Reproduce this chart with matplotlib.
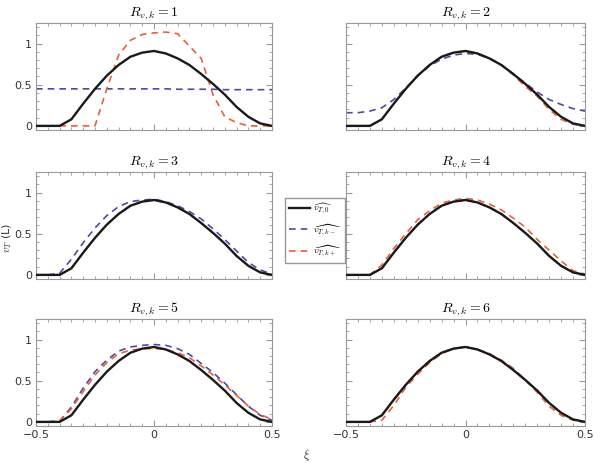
import matplotlib
matplotlib.use("Agg")
import matplotlib.pyplot as plt
from matplotlib.ticker import MultipleLocator

plt.rcParams["mathtext.fontset"] = "cm"

xi = [-0.5, -0.45, -0.4, -0.35, -0.3, -0.25, -0.2, -0.15, -0.1, -0.05, 0.0,
      0.05, 0.1, 0.15, 0.2, 0.25, 0.3, 0.35, 0.4, 0.45, 0.5]

# reference profile, same in every panel
v_0 = [0.0, 0.0, 0.0, 0.08, 0.27, 0.45, 0.61, 0.74, 0.84, 0.89, 0.91,
       0.88, 0.82, 0.74, 0.63, 0.51, 0.38, 0.23, 0.11, 0.03, 0.0]

v_minus = {
    1: [0.45, 0.45, 0.45, 0.45, 0.45, 0.45, 0.45, 0.45, 0.45, 0.45, 0.45,
        0.45, 0.445, 0.445, 0.445, 0.445, 0.44, 0.44, 0.44, 0.44, 0.44],
    2: [0.16, 0.16, 0.18, 0.22, 0.32, 0.46, 0.61, 0.73, 0.81, 0.86, 0.88,
        0.87, 0.82, 0.74, 0.63, 0.52, 0.41, 0.32, 0.26, 0.21, 0.18],
    3: [0.0, 0.0, 0.02, 0.19, 0.39, 0.57, 0.72, 0.83, 0.89, 0.91, 0.92,
        0.89, 0.84, 0.77, 0.68, 0.56, 0.43, 0.29, 0.15, 0.06, 0.01],
    4: [0.0, 0.0, 0.0, 0.08, 0.27, 0.45, 0.61, 0.74, 0.84, 0.89, 0.91,
        0.88, 0.82, 0.74, 0.63, 0.51, 0.38, 0.23, 0.11, 0.03, 0.0],
    5: [0.0, 0.0, 0.01, 0.18, 0.41, 0.61, 0.75, 0.86, 0.91, 0.93, 0.94,
        0.93, 0.89, 0.82, 0.71, 0.60, 0.47, 0.33, 0.19, 0.08, 0.02],
    6: [0.0, 0.0, 0.0, 0.08, 0.27, 0.45, 0.61, 0.74, 0.84, 0.89, 0.91,
        0.88, 0.82, 0.74, 0.63, 0.51, 0.38, 0.23, 0.11, 0.03, 0.0],
}

v_plus = {
    1: [0.0, 0.0, 0.0, 0.0, 0.0, 0.0, 0.45, 0.86, 1.04, 1.11, 1.13,
        1.14, 1.12, 0.97, 0.82, 0.38, 0.11, 0.04, 0.0, 0.0, 0.0],
    2: [0.0, 0.0, 0.0, 0.08, 0.27, 0.45, 0.61, 0.74, 0.84, 0.89, 0.91,
        0.88, 0.82, 0.74, 0.62, 0.48, 0.36, 0.20, 0.08, 0.02, 0.0],
    3: [0.0, 0.0, 0.0, 0.08, 0.27, 0.45, 0.61, 0.74, 0.84, 0.89, 0.91,
        0.88, 0.82, 0.74, 0.63, 0.51, 0.38, 0.23, 0.11, 0.03, 0.0],
    4: [0.0, 0.0, 0.0, 0.12, 0.32, 0.50, 0.67, 0.78, 0.87, 0.91, 0.93,
        0.91, 0.86, 0.79, 0.69, 0.58, 0.43, 0.30, 0.17, 0.05, 0.01],
    5: [0.0, 0.0, 0.01, 0.16, 0.37, 0.57, 0.72, 0.83, 0.87, 0.89, 0.89,
        0.88, 0.84, 0.78, 0.68, 0.57, 0.45, 0.32, 0.19, 0.09, 0.03],
    6: [0.0, 0.0, 0.0, 0.02, 0.20, 0.42, 0.58, 0.72, 0.83, 0.89, 0.91,
        0.88, 0.83, 0.75, 0.65, 0.51, 0.36, 0.19, 0.08, 0.02, 0.0],
}

R_values = [1, 2, 3, 4, 5, 6]
x_ticks = [-0.5, 0.0, 0.5]
x_ticklabels = ["\u22120.5", "0", "0.5"]
y_ticks = [0, 0.5, 1]
y_ticklabels = ["0", "0.5", "1"]

BLACK = "#1a1a1a"
BLUE = "#4a4aa8"
RED = "#e8603c"
FRAME = "#999999"
TICKTXT = "#333333"

fig = plt.figure(figsize=(5.94, 4.67), dpi=100)

col_x = [36 / 594, 346 / 594]
col_w = [236 / 594, 239 / 594]
row_top = [23, 172, 319]
row_h = 107

axes = []
for i, R in enumerate(R_values):
    r, c = divmod(i, 2)
    bottom = 1 - (row_top[r] + row_h) / 467
    ax = fig.add_axes([col_x[c], bottom, col_w[c], row_h / 467])
    ax.plot(xi, v_0, color=BLACK, lw=1.7, label=r"$\widehat{v_{T,0}}$", zorder=3)
    ax.plot(xi, v_minus[R], color=BLUE, lw=1.2, ls=(0, (4, 3)),
            label=r"$\widehat{v_{T,k-}}$", zorder=2)
    ax.plot(xi, v_plus[R], color=RED, lw=1.2, ls=(0, (4, 3)),
            label=r"$\widehat{v_{T,k+}}$", zorder=2)
    ax.set_xlim(-0.5, 0.5)
    ax.set_ylim(-0.05, 1.25)
    ax.set_title(rf"$R_{{v,k}}={R}$", fontsize=10, pad=5)
    ax.set_xticks(x_ticks)
    ax.xaxis.set_minor_locator(MultipleLocator(0.05))
    ax.set_yticks(y_ticks)
    ax.yaxis.set_minor_locator(MultipleLocator(0.1))
    ax.tick_params(which="both", direction="in", top=True, right=True,
                   color=FRAME, labelsize=8, labelcolor=TICKTXT, pad=3)
    ax.tick_params(which="major", length=4)
    ax.tick_params(which="minor", length=2)
    for s in ax.spines.values():
        s.set_color(FRAME)
        s.set_linewidth(0.8)
    if c == 1:
        ax.set_yticklabels([])
    else:
        ax.set_yticklabels(y_ticklabels)
    if r < 2:
        ax.set_xticklabels([])
    else:
        ax.set_xticklabels(x_ticklabels)
    axes.append(ax)

handles, labels = axes[0].get_legend_handles_labels()
fig.legend(handles, labels, loc="upper left", bbox_to_anchor=(280 / 594, 1 - 193 / 467),
           fontsize=7, handlelength=2.2, handletextpad=0.3, labelspacing=0.6,
           fancybox=False, edgecolor=FRAME, framealpha=1, borderpad=0.4)

fig.text(0.012, 0.49, r"$v_T$ (L)", rotation=90, ha="center", va="center",
         fontsize=8, color="#333333")
fig.text(307 / 594, 1 - 455 / 467, r"$\xi$", ha="center", va="center",
         fontsize=9, color="#333333")

fig.savefig("out.png", dpi=100)
